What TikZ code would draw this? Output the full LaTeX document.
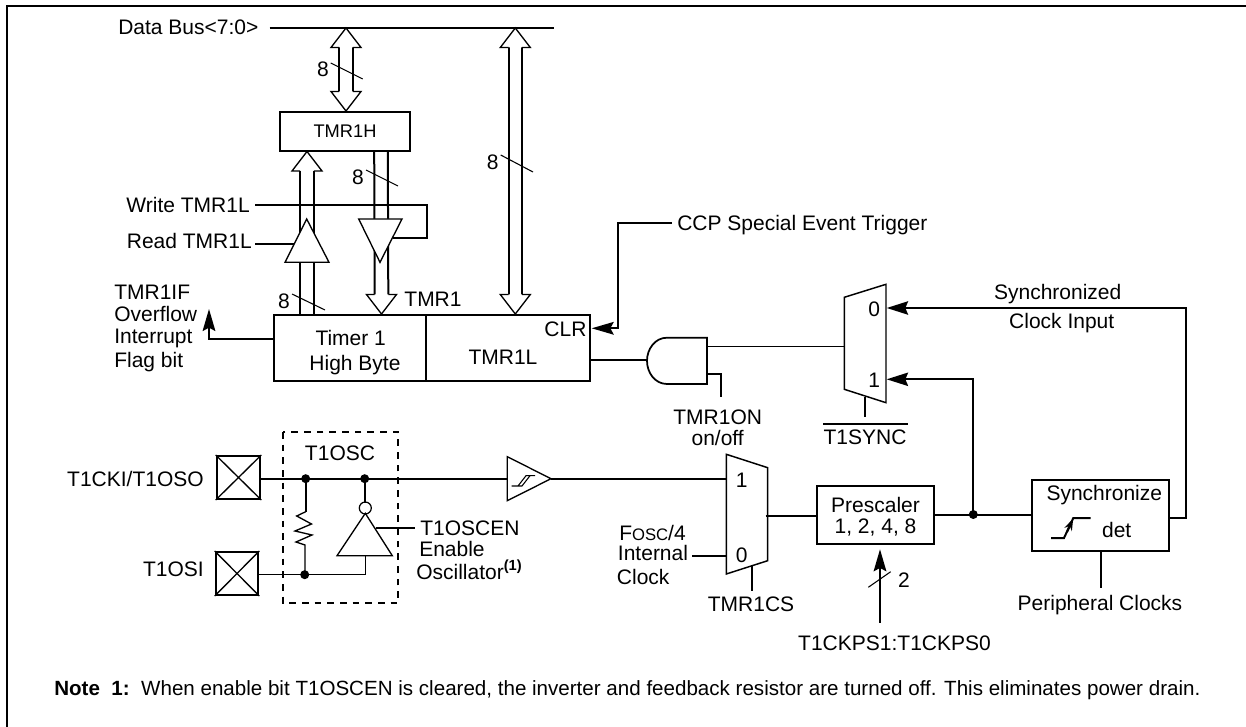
\documentclass[tikz,border=0pt]{standalone}
\usepackage{fontspec}
\setmainfont{Liberation Sans}
\usetikzlibrary{arrows.meta,calc}
\newdimen\px \px=0.75pt
\tikzset{
  thickln/.style={line width=1.5pt},
  thinln/.style={line width=1pt},
  lbl/.style={inner sep=0pt,font=\fontsize{15.75}{18}\selectfont,text height=11.3pt,text depth=0pt},
  boxnode/.style={draw,line width=1.5pt,inner sep=0pt,fill=white},
  gate/.style={draw,line width=1pt,fill=white},
  solidtip/.style={-{Stealth[length=16.5pt,width=9.5pt,inset=2.5pt]}},
  smalltip/.style={-{Stealth[length=16pt,width=10pt,inset=2pt]}},
  junction/.style={circle,fill=black,inner sep=0pt,minimum size=9\px},
  tick/.style={line width=0.8pt},
}
\newcommand{\bushead}[2]{\draw[line width=1pt,fill=white,line join=miter]
  ($(#1)+(-6.8,#2*19.5)$) -- ($(#1)+(-15,#2*19.5)$) -- (#1) -- ($(#1)+(15,#2*19.5)$) -- ($(#1)+(6.8,#2*19.5)$);}
\newcommand{\busshaft}[2]{\draw[thickln] ($(#1)+(-6.8,0)$) -- ($(#2)+(-6.8,0)$) ($(#1)+(6.8,0)$) -- ($(#2)+(6.8,0)$);}
\begin{document}
\begin{tikzpicture}[x=0.75pt,y=-0.75pt]
\useasboundingbox (0,0) rectangle (1246,727);
\fill[white] (0,0) rectangle (1246,727);
% frame
\coordinate (fbl) at (6.7,727);
\coordinate (ftl) at (6.7,5.7);
\coordinate (ftr) at (1246,5.7);
\draw[line width=1.7pt] (fbl) -- (ftl) -- (ftr);

% boxes
\node[boxnode,minimum width=130\px,minimum height=39\px] (tmrh) at (345,131.2) {};
\node[lbl,font=\fontsize{13.7}{16}\selectfont,text height=9.8pt] (tmrhl) at (tmrh.center) {TMR1H};
\node[boxnode,minimum width=151.7\px,minimum height=66\px] (timerh) at (349.85,348) {};
\node[boxnode,minimum width=164.3\px,minimum height=66\px] (timerl) at (507.85,348) {};
\node[boxnode,minimum width=116.7\px,minimum height=58\px] (presc) at (875.65,515) {};
\node[boxnode,minimum width=137.6\px,minimum height=71\px] (syncb) at (1100.5,515.5) {};
\node[draw,line width=1.5pt,minimum width=43.6\px,minimum height=43\px,inner sep=0pt] (pin1) at (238.5,477.5) {};
\node[draw,line width=1.5pt,minimum width=42.6\px,minimum height=43\px,inner sep=0pt] (pin2) at (237,573.5) {};
\draw[thinln] (pin1.north west) -- (pin1.south east) (pin1.north east) -- (pin1.south west);
\draw[thinln] (pin2.north west) -- (pin2.south east) (pin2.north east) -- (pin2.south west);

% data bus
\node[lbl,anchor=west] (dbus) at (118,27) {Data Bus<7:0>};
\coordinate (dbr) at (554,27.7);
\draw[thickln] ($(dbus.east)+(11,0.7)$) -- (dbr);

% buses
\coordinate (b1t) at (346,28);
\coordinate (b1b) at (346,111);
\busshaft{$(b1t)+(0,19)$}{$(b1b)+(0,-19)$}
\bushead{b1t}{1}\bushead{b1b}{-1}
\coordinate (b2t) at (307,151.5);
\coordinate (b2b) at (307,315);
\busshaft{$(b2t)+(0,19)$}{b2b}
\bushead{b2t}{1}
\coordinate (b3t) at (381,151);
\coordinate (b3b) at (381.5,314);
\busshaft{b3t}{$(b3b)+(0,-19)$}
\bushead{b3b}{-1}
\coordinate (b4t) at (515.3,28);
\coordinate (b4b) at (515.3,314);
\busshaft{$(b4t)+(0,19)$}{$(b4b)+(0,-19)$}
\bushead{b4t}{1}\bushead{b4b}{-1}

% bus ticks and widths
\node[lbl] (w1) at (323,69) {8};
\node[lbl] (w2) at (358,177) {8};
\node[lbl] (w3) at (492.7,162) {8};
\node[lbl] (w4) at (284,301) {8};
\draw[tick] ($(w1)+(7.7,-6)$) -- ($(w1)+(39.7,10)$);
\draw[tick] ($(w2)+(8,-7)$) -- ($(w2)+(40,9)$);
\draw[tick] ($(w3)+(8,-7)$) -- ($(w3)+(40.3,10)$);
\draw[tick] ($(w4)+(8,-7)$) -- ($(w4)+(41,9)$);

% read / write controls
\node[lbl,anchor=east] (wr) at (250,205) {Write TMR1L};
\node[lbl,anchor=east] (rd) at (252,241) {Read TMR1L};
\coordinate (wr1) at (427,205);
\coordinate (wr2) at (427,237.7);
\coordinate (wr3) at (393,237.7);
\draw[thickln] ($(wr.east)+(5,0)$) -- (wr1) -- (wr2) -- (wr3);
\coordinate (rdin) at (294,243.7);
\draw[thickln] ($(rd.east)+(3,2.7)$) -- (rdin);
\draw[gate] (306.7,219) -- (329,262.3) -- (285,262.3) -- cycle;
\draw[gate] (358.7,219) -- (402,219) -- (380,262.3) -- cycle;

% TMR1IF
\node[lbl,anchor=west] (if1) at (114,292) {TMR1IF};
\node[lbl,anchor=west] (if2) at (114,314) {Overflow};
\node[lbl,anchor=west] (if3) at (114,336) {Interrupt};
\node[lbl,anchor=west] (if4) at (114,360) {Flag bit};
\coordinate (ovf) at (209,339);
\coordinate (ovt) at (209,309);
\draw[thickln,solidtip] (timerh.west |- ovf) -- (ovf) -- (ovt);
\node[lbl] (tl1) at (433,299) {TMR1};
\node[lbl] (tl2) at (350.7,338) {Timer 1};
\node[lbl] (tl3) at (355,363) {High Byte};
\node[lbl] (tl4) at (503,357) {TMR1L};
\node[lbl,anchor=east] (clr) at (586.7,329) {CLR};
\node[lbl,anchor=west] (ccp) at (677,223) {CCP Special Event Trigger};
\coordinate (cc1) at (618.3,223);
\coordinate (cc2) at (618.3,328.3);
\coordinate (cc3) at (591.7,328.3);
\draw[thickln,solidtip] ($(ccp.west)+(-5,0)$) -- (cc1) -- (cc2) -- (cc3);

% AND gate
\coordinate (andin) at (647,360);
\coordinate (andout) at (707,346.7);
\coordinate (andb) at (707,373.7);
\draw[thickln] (timerl.east |- andin) -- (andin);
\draw[thickln] (andb) -- (721,373.7) -- (721,397.3);
\draw[line width=1.3pt,fill=white] (707,337.7) -- (667,337.7) .. controls (655,337.7) and (647,349) .. (647,360.8) .. controls (647,372.7) and (655,384) .. (667,384) -- (707,384) -- cycle;
\node[lbl] (on1) at (717.7,417) {TMR1ON};
\node[lbl] (on2) at (717.7,438) {on/off};

% clock mux
\coordinate (m1in) at (844.3,346.7);
\draw[line width=1pt] (andout) -- (m1in);
\draw[line width=1.1pt] (844.3,297.3) -- (886,284.3) -- (886,402.7) -- (844.3,389.3) -- cycle;
\node[lbl] (mx0) at (874.3,309) {0};
\node[lbl] (mx1) at (874.3,380) {1};
\coordinate (m1s) at (865,396.7);
\coordinate (m1sb) at (865,417.3);
\draw[thickln] (m1s) -- (m1sb);
\node[lbl] (t1sync) at (865,437) {T1SYNC};
\coordinate (ovl) at (823.3,424);
\coordinate (ovr) at (907.7,424);
\draw[thickln] (ovl) -- (ovr);

\node[lbl] (sc1) at (1057.7,292) {Synchronized};
\node[lbl] (sc2) at (1061.7,321) {Clock Input};
\coordinate (m0) at (886.7,308);
\coordinate (m1) at (886.7,379.3);
\coordinate (sy1) at (1186,308);
\coordinate (sy2) at (1186,518.3);
\draw[thickln,smalltip] (syncb.east |- sy2) -- (sy2) -- (sy1) -- (m0);
\node[junction] (dot) at (973.3,514.5) {};
\draw[thickln,smalltip] (dot.center) -- (dot.center |- m1) -- (m1);
\draw[thickln] (presc.east |- dot) -- (syncb.west |- dot);

% sync box
\node[lbl] (sb1) at (1104.3,492.5) {Synchronize};
\node[lbl] (sb2) at (1116.7,529.5) {det};
\draw[thickln] (1051,538) -- (1064,538) -- (1073.3,518) -- (1090.7,518);
\draw[thickln,-{Stealth[length=9pt,width=6pt]}] (1067,532) -- (1073.2,518.5);
\coordinate (perb) at (1101,588.3);
\draw[thickln] (syncb.south -| perb) -- (perb);
\node[lbl] (per) at (1100,602.5) {Peripheral Clocks};

% prescaler
\node[lbl] (ps1) at (875.5,505) {Prescaler};
\node[lbl] (ps2) at (875.5,525.5) {1, 2, 4, 8};
\coordinate (pscb) at (880,622.7);
\coordinate (psct) at (880,549.3);
\draw[thickln,solidtip] (pscb) -- (psct);
\draw[tick] (868.3,587.3) -- (890.7,571.7);
\node[lbl] (ps3) at (904,580) {2};
\node[lbl] (ps4) at (894.5,643) {T1CKPS1:T1CKPS0};

% source mux
\draw[line width=1.1pt] (726.3,454.3) -- (767.7,467.7) -- (767.7,560.7) -- (726.3,574) -- cycle;
\node[lbl] (sm1) at (741.7,480) {1};
\node[lbl] (sm0) at (741.7,555) {0};
\coordinate (m2o) at (765.7,516);
\draw[thickln] (m2o) -- (presc.west |- m2o);
\coordinate (m2i) at (726.3,556);
\coordinate (m2il) at (692.3,556);
\draw[thickln] (m2il) -- (m2i);
\coordinate (m2s) at (752,565);
\coordinate (m2sb) at (752,591);
\draw[thickln] (m2s) -- (m2sb);
\node[lbl] (cs) at (751,603.5) {TMR1CS};
\node[lbl,anchor=west] (fo1) at (619,533) {F{\fontsize{12.5}{14}\selectfont OSC}/4};
\node[lbl,anchor=west] (fo2) at (617.7,553) {Internal};
\node[lbl,anchor=west] (fo3) at (616.7,577) {Clock};

% oscillator
\coordinate (n1) at (305.7,478.7);
\coordinate (n2) at (364.7,478.7);
\coordinate (n3) at (304.7,574.7);
\coordinate (schin) at (507.3,478.7);
\coordinate (schout) at (551,478.7);
\coordinate (m2a) at (726.3,478.7);
\draw[thickln] (pin1.east |- n1) -- (schin);
\draw[thickln] (schout) -- (m2a);
\draw[gate] (507.3,456.7) -- (551,478.7) -- (507.3,500.7) -- cycle;
\draw[line width=0.8pt] (511.7,486) -- (522,486) -- (530,475.7) -- (535,475.7) (518,486) -- (526,475.7) -- (530,475.7);
\draw[thickln] (n1) -- (305.7,511.7);
\draw[line width=1pt] (305.7,511.7) -- (296.7,516) -- (311.5,524) -- (295,531) -- (312,535) -- (296,542) -- (305,545) -- (305,574.7);
\draw[line width=1.1pt] (pin2.east |- n3) -- (365.3,574.7) -- (365.3,555.7);
\draw[gate] (365.3,513.3) -- (392.3,555.7) -- (337,555.7) -- cycle;
\draw[thickln] (n2) -- (364.7,502.7);
\draw[line width=0.9pt] (365.3,508) circle (6);
\coordinate (oe) at (375.7,527.7);
\node[junction] (jn1) at (n1) {};
\node[junction] (jn2) at (n2) {};
\node[junction] (jn3) at (n3) {};
\node[lbl,anchor=west] (oscen) at (420,527.7) {T1OSCEN};
\draw[thickln] (oe) -- ($(oscen.west)+(-5,0)$);
\node[lbl,anchor=west] (os2) at (419,549) {Enable};
\node[lbl,anchor=west] (os3) at (416,572) {Oscillator\raisebox{0.42em}{\fontsize{11}{12}\bfseries (1)}};
\draw[line width=1.3pt,dash pattern=on 5pt off 4.5pt] (283.3,432) rectangle (398,603.3);
\node[lbl] (os1) at (340,452.5) {T1OSC};
\node[lbl,anchor=east] (p1l) at (204,478.7) {T1CKI/T1OSO};
\node[lbl,anchor=east] (p2l) at (204,569) {T1OSI};

% note
\node[lbl,anchor=west,font=\fontsize{15.43}{18}\selectfont,text height=11pt] (note) at (54,688) {\textbf{Note\ \ 1:}\ \ When enable bit T1OSCEN is cleared, the inverter and feedback resistor are turned off. This eliminates power drain.};
\end{tikzpicture}
\end{document}
